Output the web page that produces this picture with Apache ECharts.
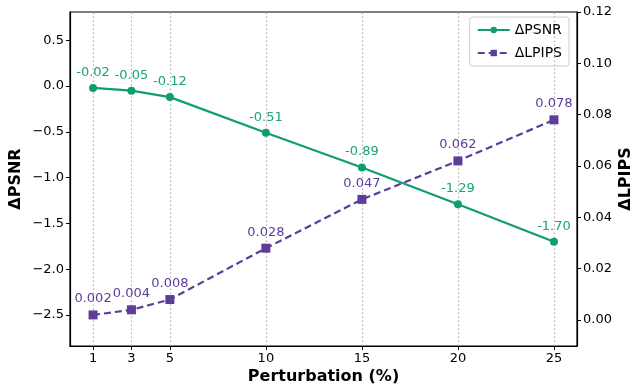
<!DOCTYPE html>
<html>
<head>
<meta charset="utf-8">
<script src="https://cdn.jsdelivr.net/npm/echarts@6/dist/echarts.min.js"></script>
<style>
  html, body { margin: 0; padding: 0; background: #fff; }
  #grafico { width: 634px; height: 387px; }
</style>
</head>
<body>
<div id="grafico"></div>
<script>
var perturbacao = [1, 3, 5, 10, 15, 20, 25];
var psnr = [-0.02, -0.05, -0.12, -0.51, -0.89, -1.29, -1.70];
var lpips = [0.002, 0.004, 0.008, 0.028, 0.047, 0.062, 0.078];
var ticksPsnr = [-2.5, -2.0, -1.5, -1.0, -0.5, 0.0, 0.5];
var ticksLpips = [0.00, 0.02, 0.04, 0.06, 0.08, 0.10, 0.12];

var verde = '#0f9d72';
var roxo = '#5e3c99';
var fonte = 'DejaVu Sans';

var chartDom = document.getElementById('grafico');
var myChart = echarts.init(chartDom);
var option;

function pares(ys) {
  return perturbacao.map(function (x, i) { return [x, ys[i]]; });
}

option = {
  animation: false,
  textStyle: { fontFamily: fonte },
  grid: {
    left: 70, right: 57, top: 12, bottom: 41,
    outerBoundsMode: 'none',
    containLabel: false,
    show: true, borderColor: '#000', borderWidth: 1.2
  },
  legend: {
    top: 17, right: 65,
    orient: 'vertical',
    itemWidth: 32, itemHeight: 8, itemGap: 9,
    padding: [6, 7],
    borderColor: '#ccc', borderWidth: 1, borderRadius: 3,
    textStyle: { fontFamily: fonte, fontSize: 14, color: '#000' },
    data: ['ΔPSNR', 'ΔLPIPS']
  },
  xAxis: {
    type: 'value',
    min: -0.2, max: 26.2,
    name: 'Perturbation (%)',
    nameLocation: 'middle',
    nameGap: 23,
    nameMoveOverlap: false,
    nameTextStyle: { fontFamily: fonte, fontSize: 16, fontWeight: 'bold', color: '#000', verticalAlign: 'top' },
    axisLine: { onZero: false, lineStyle: { color: '#000', width: 1.2 } },
    axisTick: { show: true, customValues: perturbacao, length: 4, lineStyle: { color: '#000' } },
    axisLabel: { customValues: perturbacao, fontSize: 13, color: '#000', margin: 6 },
    splitLine: { show: false }
  },
  yAxis: [
    {
      type: 'value',
      min: -2.84, max: 0.81,
      name: 'ΔPSNR',
      nameLocation: 'middle',
      nameRotate: 90,
      nameGap: 46,
      nameMoveOverlap: false,
      nameTextStyle: { fontFamily: fonte, fontSize: 16, fontWeight: 'bold', color: '#000' },
      axisLine: { show: true, onZero: false, lineStyle: { color: '#000', width: 1.2 } },
      axisTick: { show: true, customValues: ticksPsnr, length: 4, lineStyle: { color: '#000' } },
      axisLabel: {
        customValues: ticksPsnr, fontSize: 13, color: '#000', margin: 6,
        formatter: function (v) { return v.toFixed(1).replace('-', '\u2212'); }
      },
      splitLine: { show: false }
    },
    {
      type: 'value',
      min: -0.0101, max: 0.12,
      name: 'ΔLPIPS',
      nameLocation: 'middle',
      nameRotate: 90,
      nameGap: 41,
      nameMoveOverlap: false,
      nameTextStyle: { fontFamily: fonte, fontSize: 16, fontWeight: 'bold', color: '#000' },
      axisLine: { show: true, onZero: false, lineStyle: { color: '#000', width: 1.2 } },
      axisTick: { show: true, customValues: ticksLpips, length: 4, lineStyle: { color: '#000' } },
      axisLabel: {
        customValues: ticksLpips, fontSize: 13, color: '#000', margin: 6,
        formatter: function (v) { return v.toFixed(2); }
      },
      splitLine: { show: false }
    }
  ],
  series: [
    {
      // linhas de grade verticais
      name: 'grade',
      type: 'line',
      yAxisIndex: 0,
      data: [],
      z: 1,
      markLine: {
        silent: true,
        z: 1,
        symbol: 'none',
        label: { show: false },
        lineStyle: { color: '#b0b0b0', type: [1.5, 2.5], width: 1.2 },
        data: perturbacao.map(function (x) { return { xAxis: x }; })
      }
    },
    {
      name: 'ΔPSNR',
      type: 'line',
      yAxisIndex: 0,
      data: pares(psnr),
      symbol: 'circle',
      symbolSize: 8,
      itemStyle: { color: verde },
      lineStyle: { color: verde, width: 2.2 },
      label: {
        show: true, position: 'top', distance: 5,
        color: '#1aa37a', fontSize: 13,
        formatter: function (p) { return p.value[1].toFixed(2); }
      },
      z: 3
    },
    {
      name: 'ΔLPIPS',
      type: 'line',
      yAxisIndex: 1,
      data: pares(lpips),
      symbol: 'rect',
      symbolSize: 9,
      itemStyle: { color: roxo },
      lineStyle: { color: roxo, width: 2.2, type: [7, 4] },
      label: {
        show: true, position: 'top', distance: 5,
        color: roxo, fontSize: 13,
        formatter: function (p) { return p.value[1].toFixed(3); }
      },
      z: 3
    }
  ]
};

option && myChart.setOption(option);
</script>
</body>
</html>
